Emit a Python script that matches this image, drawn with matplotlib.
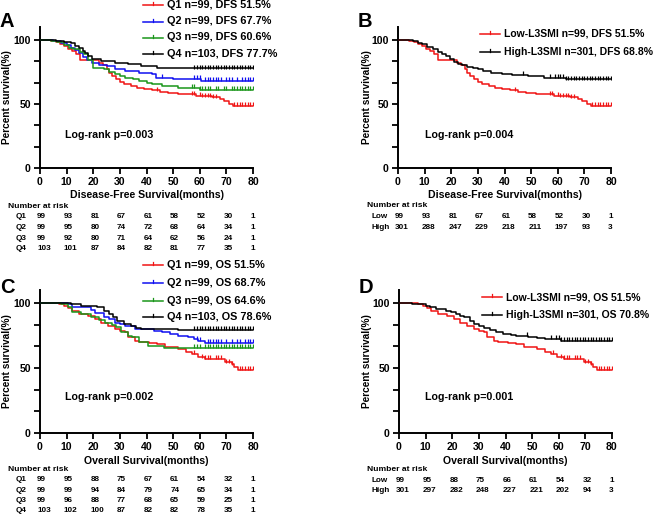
import numpy as np
import matplotlib
matplotlib.use("Agg")
import matplotlib.pyplot as plt
from matplotlib.lines import Line2D
from matplotlib.ticker import MultipleLocator
from matplotlib.transforms import blended_transform_factory

plt.rcParams['font.family'] = ['Liberation Sans', 'DejaVu Sans']
plt.rcParams['font.weight'] = 'bold'

W, H = 656, 515

# ---- data (months, percent survival) ----
q1_dfs_t = [0, 4, 6, 7.5, 9, 10.5, 12, 13.5, 15, 22, 23.5, 25, 26, 27, 28.5, 30, 31.5, 34, 36.5,
            39, 42, 45, 48, 52, 58.5, 61, 64.5, 67.5, 69, 71, 72.5]
q1_dfs_s = [100, 99, 98, 96.6, 95, 92.7, 91.4, 88.8, 84.5, 82.3, 80, 77, 74.5, 72, 69.5, 67, 65.4,
            64, 62.8, 61.5, 60.5, 59.5, 58.8, 57.6, 56.5, 55.8, 55, 53.7, 52.4, 50, 48.5]
q1_dfs_c = [44, 57, 58, 60, 61, 62, 63, 64, 65, 66, 73, 74, 75, 76, 77, 78, 79, 80]

q2_dfs_t = [0, 5, 8, 10, 11.5, 13, 14.5, 16, 17.5, 19.5, 22, 25, 28, 32, 37, 42, 43.5, 50, 60.5]
q2_dfs_s = [100, 99, 97.5, 96, 94, 92, 89.5, 86.5, 84, 82, 80.5, 79.5, 77, 75.8, 74.5, 73.2, 70.6,
            69.8, 68]
q2_dfs_c = [46, 58, 59, 60, 62, 63, 64, 65, 66, 67, 68, 70, 71, 72, 74, 76, 77, 78, 79, 80]

q3_dfs_t = [0, 4, 6.5, 9, 11, 12.5, 15, 16.5, 18, 20, 24, 26, 28, 30, 32, 35, 37, 40, 42, 46, 52, 60]
q3_dfs_s = [100, 99, 98, 96, 94, 92.7, 90.5, 88.8, 84, 78.4, 77, 75, 73.2, 71.8, 70.6, 69.3, 68,
            66.7, 65.4, 64, 62.8, 61]
q3_dfs_c = [57, 58, 60, 61, 62, 63, 64, 66, 67, 69, 70, 72, 73, 74, 75, 76, 77, 78, 79, 80]

q4_dfs_t = [0, 6, 9, 11.5, 13, 14.5, 16, 17, 18, 19.5, 23, 28, 33, 38, 44, 52]
q4_dfs_s = [100, 99.2, 98.5, 97.5, 95.5, 93.5, 91.5, 89.5, 87.5, 85, 83.6, 82.3, 81, 79.7, 78.4, 77.7]
q4_dfs_c = [58, 59, 60, 61, 62, 63, 64, 65, 66, 67, 68, 69, 70, 71, 72, 73, 74, 75, 76, 77, 78, 79, 80]

high_dfs_t = [0, 3, 5.5, 7.5, 9, 11, 13, 15, 16.5, 18, 19.5, 21, 22.5, 24, 26, 28, 30, 32, 35, 39,
              43, 49, 55, 63]
high_dfs_s = [100, 99.5, 98.7, 97.5, 96.6, 94.5, 92.7, 90.5, 88.8, 87, 85, 83, 81.5, 80, 79, 78.4,
              77, 75.8, 74.5, 73.6, 72.8, 71.9, 70.6, 69.3]
high_dfs_c = [47, 57, 59, 60, 61, 62, 63, 64, 65, 66, 67, 68, 69, 70, 71, 72, 73, 74, 75, 76, 77,
              78, 79, 80]

q1_os_t = [0, 7, 9, 10.5, 12, 14.5, 18, 20.5, 23, 25.5, 28, 30, 32, 33, 35.5, 37, 41, 44, 47, 52,
           55, 57, 59.5, 62, 69.5, 72, 73, 74.5]
q1_os_s = [100, 99, 98, 96, 94, 91.5, 90.3, 87.7, 85, 82.6, 80, 78.5, 77.5, 73.6, 71, 70.2, 69.4,
           68.5, 66, 64.7, 62.5, 60.8, 58.3, 57, 54.4, 53, 50.6, 48.8]
q1_os_c = [58, 61, 62, 63, 64, 66, 67, 68, 70, 71, 72, 75, 76, 77, 78, 79, 80]

q2_os_t = [0, 10.5, 12, 19, 20.5, 24, 26, 28, 30, 32, 35.5, 43, 46, 49, 52, 55.5, 58, 59.5, 62]
q2_os_s = [100, 99.2, 96.7, 94.5, 92, 89.5, 87.5, 85, 83.5, 82.6, 80, 78.8, 77.5, 76.2, 75, 73.6,
           72, 71, 69.3]
q2_os_c = [59, 60, 63, 64, 65, 66, 67, 68, 70, 72, 74, 75, 77, 78, 79, 80]

q3_os_t = [0, 8, 10.5, 12, 15.5, 19, 22, 24.5, 27, 28.5, 30.5, 33, 34.5, 37, 40.5, 46.5]
q3_os_s = [100, 99, 96.7, 92.8, 91.5, 89, 87, 85, 83, 81.3, 77.5, 75, 73.6, 69.8, 67.2, 65.4]
q3_os_c = [58, 59, 60, 62, 63, 64, 65, 66, 67, 68, 69, 70, 71, 72, 73, 74, 75, 76, 77, 78, 79, 80]

q4_os_t = [0, 11.5, 15.5, 21.5, 24, 26, 27.5, 29, 31.5, 34, 36, 38, 52]
q4_os_s = [100, 99.2, 98, 96.7, 94, 91.5, 89, 86.5, 84, 82, 81, 80, 79.3]
q4_os_c = [58, 59, 60, 61, 62, 63, 64, 65, 66, 67, 68, 69, 70, 71, 72, 73, 74, 75, 76, 77, 78, 79, 80]

high_os_t = [0, 5, 7.5, 10, 11.5, 14, 17.5, 19.5, 21.5, 23, 24.5, 26.5, 28, 30, 32, 34, 36.5, 39,
             42, 44, 48.5, 52, 55, 61]
high_os_s = [100, 99.6, 99.2, 98, 96.7, 95.5, 94, 93, 91.5, 90.3, 89, 86.5, 84, 82, 80.5, 79,
             77.5, 76.2, 75.5, 75, 73.6, 73, 72.3, 71]
high_os_c = [48, 57, 59, 60, 61, 62, 63, 64, 65, 66, 67, 68, 69, 70, 71, 72, 73, 74, 75, 76, 77,
             78, 79, 80]

risk_times = [0, 10, 20, 30, 40, 50, 60, 70, 80]
risk_a = {'Q1': [99, 93, 81, 67, 61, 58, 52, 30, 1],
          'Q2': [99, 95, 80, 74, 72, 68, 64, 34, 1],
          'Q3': [99, 92, 80, 71, 64, 62, 56, 24, 1],
          'Q4': [103, 101, 87, 84, 82, 81, 77, 35, 1]}
risk_b = {'Low': [99, 93, 81, 67, 61, 58, 52, 30, 1],
          'High': [301, 288, 247, 229, 218, 211, 197, 93, 3]}
risk_c = {'Q1': [99, 95, 88, 75, 67, 61, 54, 32, 1],
          'Q2': [99, 99, 94, 84, 79, 74, 65, 34, 1],
          'Q3': [99, 96, 88, 77, 68, 65, 59, 25, 1],
          'Q4': [103, 102, 100, 87, 82, 82, 78, 35, 1]}
risk_d = {'Low': [99, 95, 88, 75, 66, 61, 54, 32, 1],
          'High': [301, 297, 282, 248, 227, 221, 202, 94, 3]}

RED, BLUE, GREEN, BLACK = '#f01414', '#1010f0', '#1a961a', '#000000'


def fy(py):
    return 1 - py / H


def km(ax, t, s, cens, color):
    end = max(t[-1], max(cens))
    tt = np.array(t + [end])
    ss = np.array(s + [s[-1]])
    ax.step(tt, ss, where='post', color=color, lw=1.1, zorder=3)
    idx = np.searchsorted(np.array(t), np.array(cens), side='right') - 1
    ax.plot(cens, np.array(s)[idx] + 1.2, ls='none', marker='|', ms=3.4,
            mew=0.9, color=color, zorder=3)


def setup(ax, xlabel, x0, px_top, px_bot, ylab_x):
    ax.set_position([x0 / W, fy(px_bot), 213 / W, (px_bot - px_top) / H])
    ax.set_xlim(0, 80)
    ax.set_ylim(0, 110)
    for sp in ('top', 'right'):
        ax.spines[sp].set_visible(False)
    for sp in ('left', 'bottom'):
        ax.spines[sp].set_linewidth(1.4)
    ax.spines['left'].set_bounds(0, 110)
    ax.set_xticks(risk_times)
    ax.set_yticks([0, 50, 100])
    ax.yaxis.set_minor_locator(MultipleLocator(50 / 3))
    ax.tick_params(axis='both', which='major', length=4, width=1.3, labelsize=7.6, pad=2.5)
    ax.tick_params(axis='y', which='minor', length=4, width=1.3)
    ax.set_xlabel(xlabel, fontsize=7.6, fontweight='bold', labelpad=2.5)
    ax.set_ylabel('Percent survival(%)', fontsize=7.3, fontweight='bold')
    ax.yaxis.set_label_coords((ylab_x - x0) / 213, 0.5)
    for lab in ax.get_xticklabels() + ax.get_yticklabels():
        lab.set_fontweight('bold')


def risk_table(fig, ax, table, lab_x, head_y, row_ys):
    fig.text(lab_x / W, fy(head_y), 'Number at risk', fontsize=6.1, fontweight='bold',
             ha='left', va='center')
    tr = blended_transform_factory(ax.transData, fig.transFigure)
    for (name, vals), ry in zip(table.items(), row_ys):
        fig.text((lab_x + (8 if name.startswith('Q') else 5)) / W, fy(ry), name, fontsize=5.9,
                 fontweight='bold', ha='left', va='center')
        for x, v in zip(risk_times, vals):
            ax.text(x - 1.1, fy(ry), str(v), transform=tr, fontsize=5.9, fontweight='bold',
                    ha='left', va='center', clip_on=False)


def legend(fig, x_line, rows, items, size):
    for (label, color), ry in zip(items, rows):
        fig.add_artist(Line2D([x_line / W, (x_line + 20) / W], [fy(ry), fy(ry)],
                              color=color, lw=1.1))
        fig.add_artist(Line2D([(x_line + 10) / W] * 2, [fy(ry), fy(ry - 3)],
                              color=color, lw=0.9))
        fig.text((x_line + 24) / W, fy(ry), label, fontsize=size, fontweight='bold',
                 ha='left', va='center')


fig = plt.figure(figsize=(W / 100, H / 100), dpi=100)
axA = fig.add_axes([0, 0, 1, 1])
axB = fig.add_axes([0, 0, 1, 1])
axC = fig.add_axes([0, 0, 1, 1])
axD = fig.add_axes([0, 0, 1, 1])

setup(axA, 'Disease-Free Survival(months)', 40, 27, 168, 12)
setup(axB, 'Disease-Free Survival(months)', 398, 27, 168, 372)
setup(axC, 'Overall Survival(months)', 40, 290, 433, 12)
setup(axD, 'Overall Survival(months)', 399, 290, 433, 372)

km(axA, q1_dfs_t, q1_dfs_s, q1_dfs_c, RED)
km(axA, q2_dfs_t, q2_dfs_s, q2_dfs_c, BLUE)
km(axA, q3_dfs_t, q3_dfs_s, q3_dfs_c, GREEN)
km(axA, q4_dfs_t, q4_dfs_s, q4_dfs_c, BLACK)

km(axB, q1_dfs_t, q1_dfs_s, q1_dfs_c, RED)
km(axB, high_dfs_t, high_dfs_s, high_dfs_c, BLACK)

km(axC, q1_os_t, q1_os_s, q1_os_c, RED)
km(axC, q2_os_t, q2_os_s, q2_os_c, BLUE)
km(axC, q3_os_t, q3_os_s, q3_os_c, GREEN)
km(axC, q4_os_t, q4_os_s, q4_os_c, BLACK)

km(axD, q1_os_t, q1_os_s, q1_os_c, RED)
km(axD, high_os_t, high_os_s, high_os_c, BLACK)

legend(fig, 143, [5, 21.5, 37.5, 54],
       [('Q1 n=99, DFS 51.5%', RED), ('Q2 n=99, DFS 67.7%', BLUE),
        ('Q3 n=99, DFS 60.6%', GREEN), ('Q4 n=103, DFS 77.7%', BLACK)], 7.8)
legend(fig, 480, [33.5, 52],
       [('Low-L3SMI n=99, DFS 51.5%', RED), ('High-L3SMI n=301, DFS 68.8%', BLACK)], 7.45)
legend(fig, 143, [265, 283, 300.5, 317],
       [('Q1 n=99, OS 51.5%', RED), ('Q2 n=99, OS 68.7%', BLUE),
        ('Q3 n=99, OS 64.6%', GREEN), ('Q4 n=103, OS 78.6%', BLACK)], 7.8)
legend(fig, 482, [297, 315],
       [('Low-L3SMI n=99, OS 51.5%', RED), ('High-L3SMI n=301, OS 70.8%', BLACK)], 7.45)

for x, y, txt in [(65, 135, 'Log-rank p=0.003'), (425, 135, 'Log-rank p=0.004'),
                  (65, 397, 'Log-rank p=0.002'), (425, 397, 'Log-rank p=0.001')]:
    fig.text(x / W, fy(y), txt, fontsize=7.7, fontweight='bold', ha='left', va='center')

for x, y, txt in [(0, 21.5, 'A'), (358, 21.5, 'B'), (0, 287.5, 'C'), (359, 287.5, 'D')]:
    fig.text(x / W, fy(y), txt, fontsize=14.5, fontweight='bold', ha='left', va='center')

risk_table(fig, axA, risk_a, 8, 206.5, [216.7, 227.7, 238.3, 249])
risk_table(fig, axB, risk_b, 367, 205.7, [216.7, 227.3])
risk_table(fig, axC, risk_c, 8, 469.3, [479.5, 490, 500, 510.5])
risk_table(fig, axD, risk_d, 367, 469.3, [480, 490.3])

fig.savefig('out.png', dpi=100)
